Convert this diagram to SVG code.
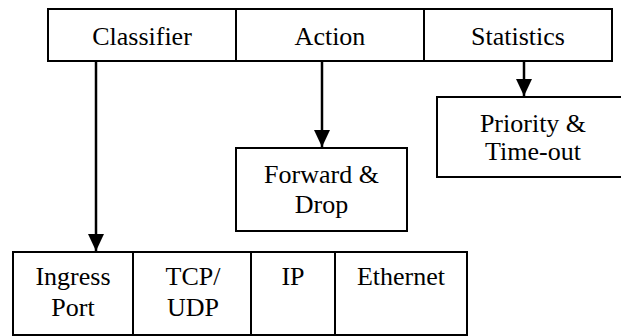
<svg xmlns="http://www.w3.org/2000/svg" width="621" height="336" viewBox="0 0 621 336">
<style>
.box{fill:#fff;stroke:#000;stroke-width:2}
.t{font-family:"Liberation Serif","Times New Roman",serif;font-size:26px;fill:#000;text-anchor:middle}
.c{stroke:#000;stroke-width:2.5;fill:none}
</style>
<defs>
<marker id="ah" markerUnits="userSpaceOnUse" markerWidth="18" markerHeight="18" viewBox="0 0 18 18" refX="17" refY="9" orient="auto">
<path d="M0,1 L17,9 L0,17 Z" fill="#000"/>
</marker>
</defs>
<rect width="621" height="336" fill="#fff"/>
<g id="classifier"><rect class="box" x="48" y="9" width="188" height="52"/><text class="t" x="142" y="45">Classifier</text></g>
<g id="action"><rect class="box" x="236" y="9" width="188" height="52"/><text class="t" x="330" y="45">Action</text></g>
<g id="statistics"><rect class="box" x="424" y="9" width="188" height="52"/><text class="t" x="518" y="45">Statistics</text></g>
<g id="priority"><rect class="box" x="437" y="97" width="190" height="80"/><text class="t" x="533" y="132">Priority &amp;</text><text class="t" x="533" y="160">Time-out</text></g>
<g id="forward"><rect class="box" x="236" y="148" width="171" height="83"/><text class="t" x="321.5" y="183">Forward &amp;</text><text class="t" x="321.5" y="213">Drop</text></g>
<g id="ingress"><rect class="box" x="13" y="252" width="120" height="83"/><text class="t" x="73" y="285">Ingress</text><text class="t" x="73" y="316">Port</text></g>
<g id="tcpudp"><rect class="box" x="133" y="252" width="118" height="83"/><text class="t" x="193" y="285">TCP/</text><text class="t" x="193" y="316">UDP</text></g>
<g id="ip"><rect class="box" x="251" y="252" width="84" height="83"/><text class="t" x="293" y="285">IP</text></g>
<g id="ethernet"><rect class="box" x="335" y="252" width="132" height="83"/><text class="t" x="401" y="285">Ethernet</text></g>
<g id="connectors">
<line class="c" x1="96" y1="61" x2="96" y2="251" marker-end="url(#ah)"/>
<line class="c" x1="322" y1="61" x2="322" y2="147" marker-end="url(#ah)"/>
<line class="c" x1="524" y1="61" x2="524" y2="96" marker-end="url(#ah)"/>
</g>
</svg>
